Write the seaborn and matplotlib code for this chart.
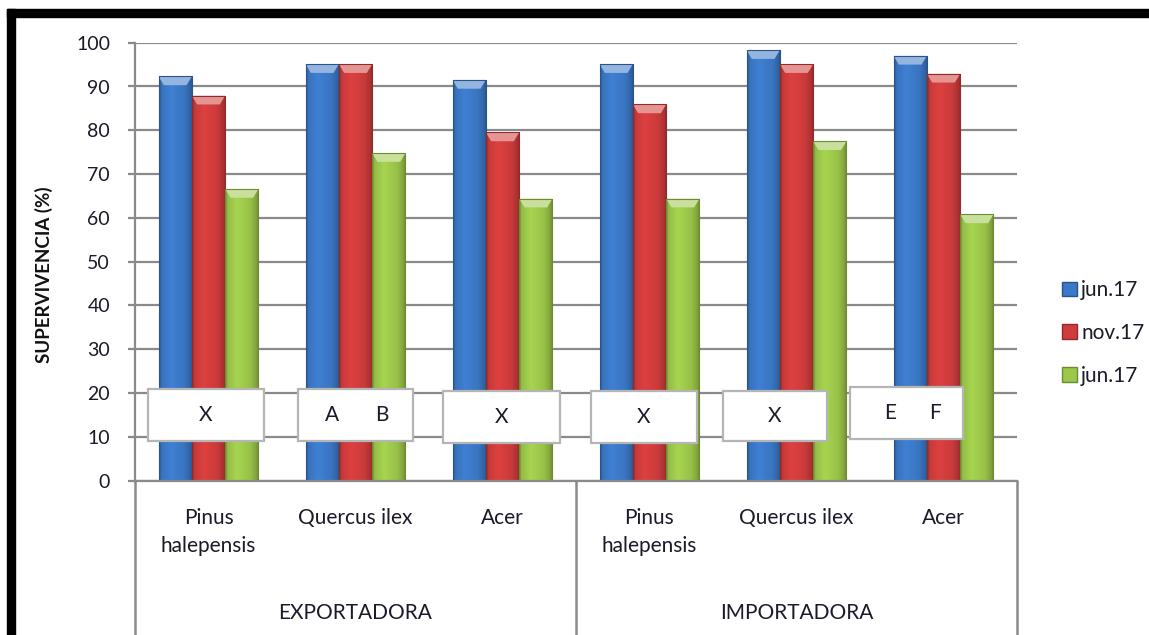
import numpy as np
import pandas as pd
import matplotlib
matplotlib.use("Agg")
import matplotlib.pyplot as plt
import matplotlib.colors as mcolors
from matplotlib.patches import Rectangle, Polygon, Patch
from matplotlib import transforms
import seaborn as sns

# ---- data -----------------------------------------------------------------
grupos = ["EXPORTADORA", "IMPORTADORA"]
especies = ["Pinus\nhalepensis", "Quercus ilex", "Acer"]
series = ["jun.17", "nov.17", "jun.17"]
serie_jun17 = [92.3, 95.1, 91.5, 95.1, 98.3, 97.0]
serie_nov17 = [87.9, 95.1, 79.5, 85.9, 95.1, 92.9]
serie_jun17_b = [66.6, 74.8, 64.4, 64.4, 77.5, 60.8]
letras = [["X"], ["A", "B"], ["X"], ["X"], ["X"], ["E", "F"]]

colores = ["#3b78c6", "#d03c3c", "#9cc74a"]

# ---- long table for seaborn -------------------------------------------------
claves = [f"{g}|{e}" for g in grupos for e in especies]
hue_keys = ["s0", "s1", "s2"]
valores = [serie_jun17, serie_nov17, serie_jun17_b]
filas = []
for hk, vals in zip(hue_keys, valores):
    for c, v in zip(claves, vals):
        filas.append({"clave": c, "serie": hk, "valor": v})
df = pd.DataFrame(filas)

sns.set_style("white")
plt.rcParams["font.family"] = ["Lato", "DejaVu Sans"]

fig = plt.figure(figsize=(11.49, 6.35), dpi=100)
ax = fig.add_axes([135 / 1149, 1 - 480.7 / 635, 882 / 1149, 438 / 635])

sns.barplot(data=df, x="clave", y="valor", hue="serie", order=claves,
            hue_order=hue_keys, palette=dict(zip(hue_keys, colores)),
            width=0.68, saturation=1, errorbar=None, legend=False, ax=ax,
            linewidth=0)

# glossy shading on each bar, derived from the drawn rectangles
perfil_t = [0, 0.07, 0.35, 0.75, 0.93, 1]
perfil_f = [0.72, 0.95, 1.07, 0.97, 0.82, 0.68]
t = np.linspace(0, 1, 64)
fac = np.interp(t, perfil_t, perfil_f)
for cont, col in zip(ax.containers, colores):
    rgb = np.array(mcolors.to_rgb(col))
    img = np.clip(rgb[None, :] * fac[:, None], 0, 1)[None, :, :]
    light = rgb + (1 - rgb) * 0.45
    for p in cont.patches:
        x, w, h = p.get_x(), p.get_width(), p.get_height()
        im = ax.imshow(img, extent=(x, x + w, 0, h), aspect="auto",
                       interpolation="bilinear", zorder=2.1)
        im.set_clip_path(p)
        bev = 2.0
        ax.add_patch(Polygon([(x, h), (x + w, h), (x + w * 0.84, h - bev),
                              (x + w * 0.16, h - bev)], closed=True,
                             facecolor=light, edgecolor="none", zorder=2.2))
        ax.add_patch(Rectangle((x, 0), w, h, facecolor="none",
                               edgecolor=rgb * 0.7, lw=0.8, zorder=2.3))

ax.set_xlim(-0.5, 5.5)
ax.set_ylim(0, 100)
ax.set_yticks(np.arange(0, 101, 10))
ax.set_axisbelow(True)
gris = "#8a8a8a"
ax.yaxis.grid(True, color=gris, lw=1.6)
ax.xaxis.grid(False)
for s in ["top", "right"]:
    ax.spines[s].set_visible(False)
ax.spines["left"].set_color(gris)
ax.spines["left"].set_linewidth(1.6)
ax.spines["bottom"].set_color(gris)
ax.spines["bottom"].set_linewidth(1.6)

ax.tick_params(axis="y", length=5, width=1.6, color=gris, direction="out",
               pad=13, labelsize=14, labelcolor="#1a1a2a", left=True)
ax.set_xticks(range(6))
ax.set_xticklabels(especies * 2, fontsize=15, linespacing=1.45,
                   color="#1a1a2a")
ax.tick_params(axis="x", length=0, pad=20)
ax.set_xlabel("")
ax.set_ylabel("SUPERVIVENCIA (%)", fontweight="bold", fontsize=13.5,
              color="#111111")
ax.yaxis.set_label_coords(-0.093, 0.47)

# second level of the category axis
bt = transforms.blended_transform_factory(ax.transData, fig.transFigure)
for xpos in [-0.5, 2.5, 5.5]:
    ax.plot([xpos, xpos], [0, 1 - 480.7 / 635], transform=bt, color=gris,
            lw=1.8, clip_on=False, zorder=1)
for i, g in enumerate(grupos):
    ax.text(1 + 3 * i, 1 - 613 / 635, g, transform=bt, ha="center",
            va="center", fontsize=15, color="#1a1a2a")

# annotation boxes over the bars
cajas = [(-0.414, 0.380, 9.1, 20.9), (0.609, 1.393, 9.1, 20.9),
         (1.597, 2.391, 8.6, 20.5), (2.602, 3.321, 8.6, 20.5),
         (3.502, 4.205, 9.1, 20.5), (4.364, 5.135, 9.6, 21.5)]
desplaz = [[0.0], [-0.16, 0.18], [0.0], [0.0], [0.0], [-0.11, 0.19]]
for (x0, x1, y0, y1), txts, offs in zip(cajas, letras, desplaz):
    ax.add_patch(Rectangle((x0, y0), x1 - x0, y1 - y0, facecolor="white",
                           edgecolor="#b5b5b5", lw=1.6, zorder=5))
    yc = (y0 + y1) / 2
    xc = (x0 + x1) / 2
    for dx, tx in zip(offs, txts):
        ax.text(xc + dx, yc, tx, ha="center", va="center",
                fontsize=15, color="#1a1a2a", zorder=6)

# legend
handles = [Patch(facecolor=c, edgecolor=np.array(mcolors.to_rgb(c)) * 0.7)
           for c in colores]
fig.legend(handles, series, loc="center left",
           bbox_to_anchor=(1052 / 1149, 1 - 333 / 635), frameon=False,
           fontsize=15, handlelength=0.7, handleheight=0.7,
           handletextpad=0.2, labelspacing=1.1, borderpad=0,
           labelcolor="#1a1a2a")

# black frame band along top and left
fig.add_artist(Rectangle((7.3 / 1149, 0), 7.7 / 1149, 1 - 9 / 635,
                         transform=fig.transFigure, color="black", zorder=10))
fig.add_artist(Rectangle((7.3 / 1149, 1 - 16.7 / 635), 1, 7.7 / 635,
                         transform=fig.transFigure, color="black", zorder=10))

fig.savefig("out.png", dpi=100)
